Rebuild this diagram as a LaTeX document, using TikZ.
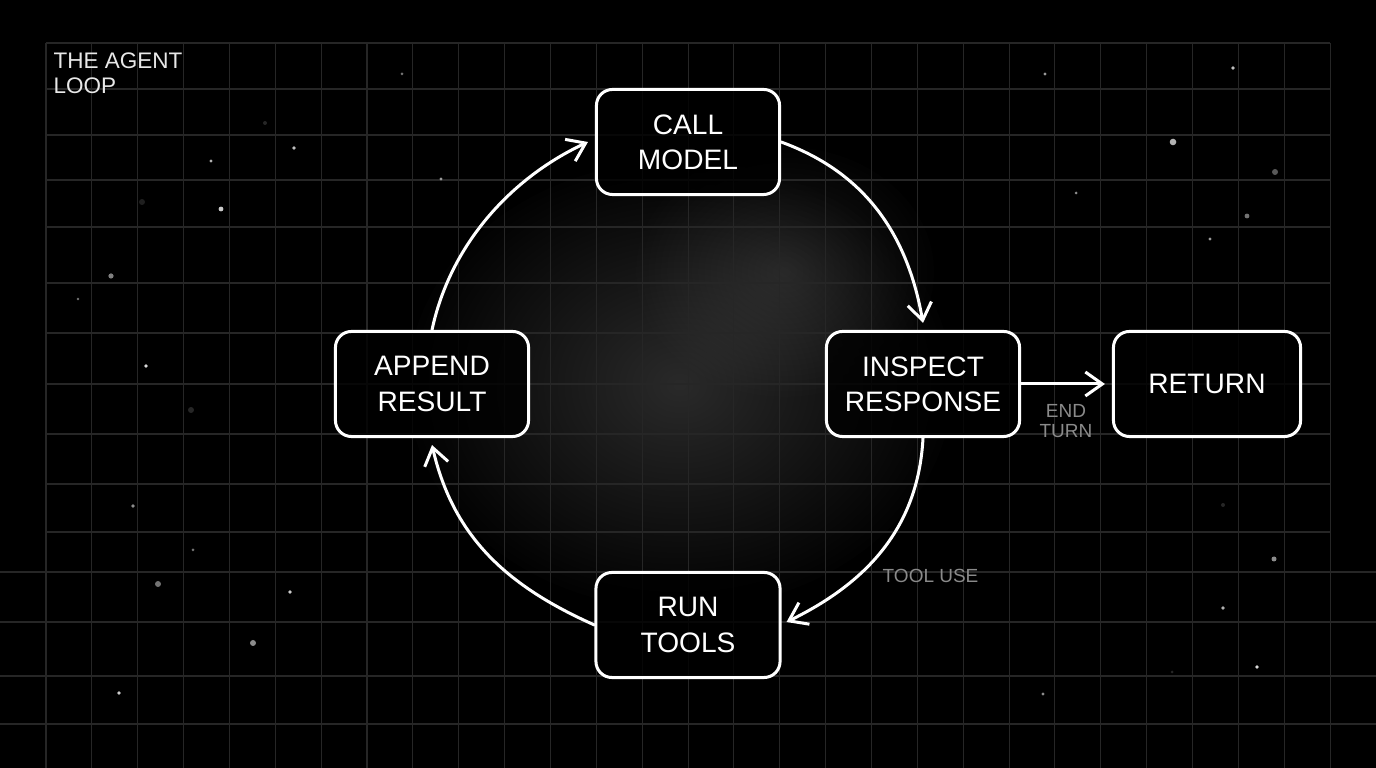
\documentclass[tikz,border=0pt]{standalone}
\usepackage{fontspec}
\setmainfont{Liberation Sans}
\usetikzlibrary{arrows.meta}
\definecolor{gridc}{RGB}{38,38,38}
\definecolor{notec}{RGB}{138,138,138}
\definecolor{titlec}{RGB}{232,232,232}

\begin{document}
\begin{tikzpicture}[x=0.01cm,y=-0.01cm,
  gridline/.style={draw=gridc,line width=0.3pt},
  stepbox/.style={draw=white,line width=0.03cm,rounded corners=0.16cm,
    fill=black,fill opacity=0.8,text opacity=1,text=white,align=center,
    minimum height=1.05cm,inner sep=0pt,font=\fontsize{8}{10}\selectfont},
  flow/.style={draw=white,line width=0.03cm,line cap=round,line join=round,
    -{Straight Barb[length=0.17cm,width=0.24cm]}},
  note/.style={text=notec,align=center,inner sep=0pt,
    font=\fontsize{5.4}{5.7}\selectfont}]

% background
\fill[black] (0,0) rectangle (1376,768);
\useasboundingbox (0,0) rectangle (1376,768);

% soft haze behind the loop
\foreach \k in {1,...,40}
  \fill[white,fill opacity=0.0065] (680,385) ellipse [x radius={0.068cm*\k}, y radius={0.056cm*\k}];
\foreach \k in {1,...,24}
  \fill[white,fill opacity=0.006] (785,272) ellipse [x radius={0.062cm*\k}, y radius={0.052cm*\k}];

% grid
\foreach \i in {0,...,28}
  \draw[gridline] ({46+45.86*\i},43) -- ({46+45.86*\i},768);
\foreach \yy in {43,89,135,180,227,283,333,384,434,484,532}
  \draw[gridline] (46,\yy) -- (1330,\yy);
\foreach \yy in {572,622,676,724}
  \draw[gridline] (0,\yy) -- (1376,\yy);

% stars
\foreach \sx/\sy/\sr/\sg in {
  402/74/1.5/45, 265/123/2/15, 294/148/1.8/75, 211/161/1.6/70, 221/209/2.4/80,
  441/179/1.6/60, 142/202/3/12, 111/276/2.6/50, 78/299/1.3/45, 146/366/1.8/85,
  191/410/3/15, 133/506/1.8/55, 193/550/1.5/45, 158/584/3/45, 290/592/1.8/80,
  253/643/3/55, 119/693/1.8/80, 1045/74/1.6/60, 1233/68/1.8/75, 1173/142/3.3/70,
  1275/172/3/35, 1076/193/1.5/55, 1247/216/2.4/45, 1210/239/1.6/60, 1223/505/2/15,
  1274/559/2.5/55, 1223/608/1.8/70, 1257/667/1.8/85, 1172/672/1.5/15, 1043/694/1.6/55}
  \fill[white!\sg!black] (\sx,\sy) circle[radius={0.01cm*\sr}];

% title
\node[anchor=north west,inner sep=0pt,text=titlec,align=left,
  font=\fontsize{6.4}{7}\selectfont] (title) at (53,52) {THE AGENT\\LOOP};

% steps
\node[stepbox,minimum width=1.83cm] (call) at (688,142) {CALL\\MODEL};
\node[stepbox,minimum width=1.93cm] (inspect) at (923,384) {INSPECT\\RESPONSE};
\node[stepbox,minimum width=1.84cm] (run) at (688,625) {RUN\\TOOLS};
\node[stepbox,minimum width=1.93cm] (append) at (432,384) {APPEND\\RESULT};
\node[stepbox,minimum width=1.87cm] (return) at (1207,384) {RETURN};

% loop connectors
\draw[flow] (append.north) to[out=78,in=205,looseness=0.9] ([xshift=-0.07cm]call.west);
\draw[flow] (call.east) to[out=-20,in=100] ([yshift=0.07cm]inspect.north);
\draw[flow] (inspect.south) to[out=-93,in=26] ([xshift=0.05cm,yshift=0.03cm]run.east);
\draw[flow] (run.west) to[out=156,in=-77] ([yshift=-0.07cm]append.south);
\draw[flow] (inspect.east) -- ([xshift=-0.07cm]return.west);

% labels
\node[note,anchor=north] (endturn) at (1066,404) {END\\TURN};
\node[note,anchor=north west] (tooluse) at (882,569) {TOOL USE};

\end{tikzpicture}
\end{document}
